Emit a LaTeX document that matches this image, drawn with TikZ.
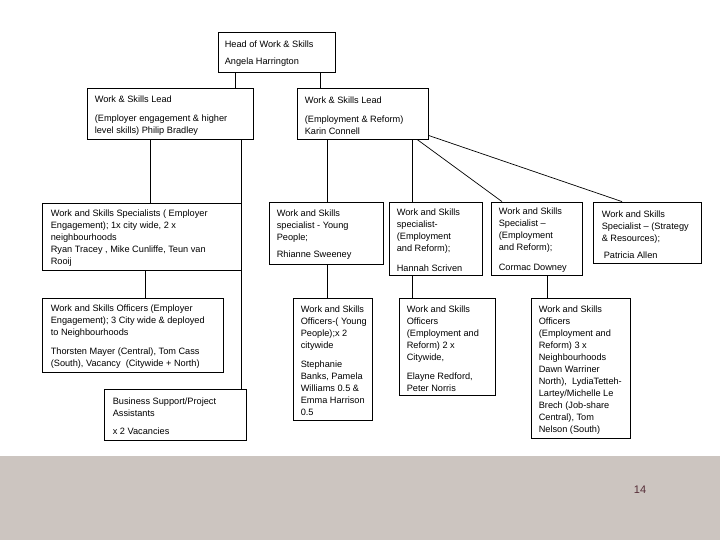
\documentclass[tikz,border=0pt]{standalone}
\usepackage{fontspec}
\setmainfont{Liberation Sans}

\definecolor{footergray}{RGB}{204,197,192}
\definecolor{pagenum}{RGB}{85,45,55}

\begin{document}
\begin{tikzpicture}[x=1pt, y=-1pt,
		box/.style={draw, line width=0.8pt, inner sep=0pt},
		txt/.style={align=left, inner sep=0pt, anchor=west, yshift=-2pt, font=\fontsize{9.2}{12}\selectfont},
		link/.style={line width=0.7pt}]
	
	% Page and footer
	\fill[white] (0,0) rectangle (720,540);
	\useasboundingbox (0,0) rectangle (720,540);
	\fill[footergray] (0,456) rectangle (720,540);
	\node[text=pagenum, font=\fontsize{11}{13}\selectfont] (pgno) at (640,490) {14};
	
	% HEAD
	\node[box, minimum width=117, minimum height=40] (head) at (276.5,52) {};
	\node[txt] (headT) at ([xshift=7]head.west) {Head of Work \& Skills\\[5pt]Angela Harrington};
	
	% LEADS
	\node[box, minimum width=166, minimum height=51] (leadA) at (170,113.5) {};
	\node[txt] (leadAT) at ([xshift=8]leadA.west) {Work \& Skills Lead\\[7pt](Employer engagement \& higher\\level skills) Philip Bradley};
	
	\node[box, minimum width=131, minimum height=51] (leadB) at (362.5,113.5) {};
	\node[txt] (leadBT) at ([xshift=8]leadB.west) {Work \& Skills Lead\\[7pt](Employment \& Reform)\\Karin Connell};
	
	% SPECIALISTS
	\node[box, minimum width=199, minimum height=67] (specA) at (141.5,236.5) {};
	\node[txt] (specAT) at ([xshift=9]specA.west) {Work and Skills Specialists ( Employer\\Engagement); 1x city wide, 2 x\\neighbourhoods\\Ryan Tracey , Mike Cunliffe, Teun van\\Rooij};
	
	\node[box, minimum width=114, minimum height=62] (specYP) at (326,233) {};
	\node[txt] (specYPT) at ([xshift=8]specYP.west) {Work and Skills\\specialist - Young\\People;\\[5pt]Rhianne Sweeney};
	
	\node[box, minimum width=93, minimum height=73] (specER) at (435.5,238.5) {};
	\node[txt] (specERT) at ([xshift=8]specER.west) {Work and Skills\\specialist-\\(Employment\\and Reform);\\[8pt]Hannah Scriven};
	
	\node[box, minimum width=91, minimum height=73] (specEN) at (536.5,238.5) {};
	\node[txt] (specENT) at ([xshift=8]specEN.west) {Work and Skills\\Specialist --\\(Employment\\and Reform);\\[8pt]Cormac Downey};
	
	\node[box, minimum width=108, minimum height=61] (specSR) at (647,232.5) {};
	\node[txt] (specSRT) at ([xshift=9]specSR.west) {Work and Skills\\Specialist -- (Strategy\\\& Resources);\\[5pt]\hspace*{2pt}Patricia Allen};
	
	% OFFICERS
	\node[box, minimum width=181, minimum height=74] (offA) at (132.5,335) {};
	\node[txt] (offAT) at ([xshift=9]offA.west) {Work and Skills Officers (Employer\\Engagement); 3 City wide \& deployed\\to Neighbourhoods\\[7pt]Thorsten Mayer (Central), Tom Cass\\(South), Vacancy\ \ (Citywide + North)};
	
	\node[box, minimum width=142, minimum height=51] (support) at (175,414.5) {};
	\node[txt] (supportT) at ([xshift=9]support.west) {Business Support/Project\\Assistants\\[6pt]x 2 Vacancies};
	
	\node[box, minimum width=79, minimum height=122] (offYP) at (332.5,359) {};
	\node[txt] (offYPT) at ([xshift=8]offYP.west) {Work and Skills\\Officers-( Young\\People);x 2\\citywide\\[7pt]Stephanie\\Banks, Pamela\\Williams 0.5 \&\\Emma Harrison\\0.5};
	
	\node[box, minimum width=96, minimum height=97] (offER) at (447,346.5) {};
	\node[txt] (offERT) at ([xshift=8]offER.west) {Work and Skills\\Officers\\(Employment and\\Reform) 2 x\\Citywide,\\[7pt]Elayne Redford,\\Peter Norris};
	
	\node[box, minimum width=99, minimum height=140] (offEN) at (580.5,368) {};
	\node[txt] (offENT) at ([xshift=8]offEN.west) {Work and Skills\\Officers\\(Employment and\\Reform) 3 x\\Neighbourhoods\\Dawn Warriner\\North),\ \ LydiaTetteh-\\Lartey/Michelle Le\\Brech (Job-share\\Central), Tom\\Nelson (South)};
	
	% Drop lines (x positions)
	\coordinate (xA) at (235,0);
	\coordinate (xB) at (320,0);
	\coordinate (xC) at (150,0);
	\coordinate (xD) at (241,0);
	\coordinate (xE) at (145,0);
	\coordinate (xF) at (327,0);
	\coordinate (xG) at (412,0);
	\coordinate (xH) at (547,0);
	\coordinate (xI) at (417,0);
	\coordinate (xJ) at (502,0);
	\coordinate (xK) at (622,0);
	
	% Connectors
	\draw[link] (head.south -| xA) -- (leadA.north -| xA);
	\draw[link] (head.south -| xB) -- (leadB.north -| xB);
	\draw[link] (leadA.south -| xC) -- (specA.north -| xC);
	\draw[link] (leadA.south -| xD) -- (support.north -| xD);
	\draw[link] (specA.south -| xE) -- (offA.north -| xE);
	\draw[link] (leadB.south -| xF) -- (specYP.north -| xF);
	\draw[link] (leadB.south -| xG) -- (specER.north -| xG);
	\draw[link] (leadB.south -| xI) -- (specEN.north -| xJ);
	\draw[link] ([yshift=4pt]leadB.south east) -- (specSR.north -| xK);
	\draw[link] (specYP.south -| xF) -- (offYP.north -| xF);
	\draw[link] (specER.south -| xG) -- (offER.north -| xG);
	\draw[link] (specEN.south -| xH) -- (offEN.north -| xH);
	
\end{tikzpicture}
\end{document}
